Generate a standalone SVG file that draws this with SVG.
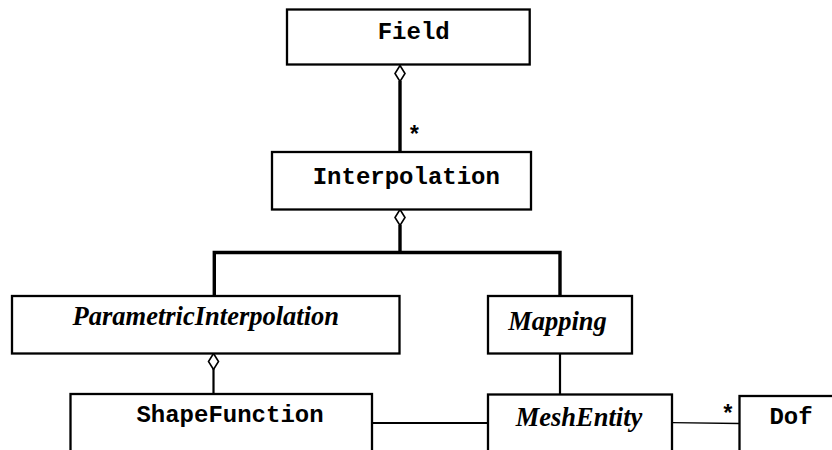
<svg xmlns="http://www.w3.org/2000/svg" width="832" height="450" viewBox="0 0 832 450">
  <style>
    .box { fill: #fff; stroke: #000; stroke-width: 2.3; }
    .mono { font-family: "Liberation Mono", "Courier New", monospace; font-weight: bold; font-size: 24px; fill: #000; text-anchor: middle; }
    .abs { font-family: "Liberation Serif", "Times New Roman", serif; font-weight: bold; font-style: italic; font-size: 26.5px; fill: #000; text-anchor: middle; }
    .thick { fill: none; stroke: #000; stroke-width: 3.4; stroke-linejoin: miter; }
    .thin { fill: none; stroke: #000; stroke-width: 2.2; }
    .hair { fill: none; stroke: #000; stroke-width: 1.3; }
    .agg { fill: #fff; stroke: #000; stroke-width: 1.6; }
    .mult { font-family: "Liberation Mono", "Courier New", monospace; font-weight: bold; font-size: 23px; fill: #000; text-anchor: middle; }
  </style>
  <rect width="832" height="450" fill="#fff"/>

  <g id="connectors">
    <!-- Field <>- Interpolation -->
    <line class="thick" x1="400" y1="81" x2="400" y2="152"/>
    <path class="agg" d="M400,65.5 L405,73.5 L400,81.5 L395,73.5 Z"/>
    <text class="mult" x="414.5" y="143">*</text>
    <!-- Interpolation <>- specialisations -->
    <line class="thick" x1="400" y1="225" x2="400" y2="252.5"/>
    <path class="thick" d="M214.3,296 V252.5 H560 V296"/>
    <path class="agg" d="M400,209.5 L405,217.5 L400,225.5 L395,217.5 Z"/>
    <!-- ParametricInterpolation <>- ShapeFunction -->
    <line class="thin" x1="213.5" y1="369" x2="213.5" y2="394"/>
    <path class="agg" d="M213.5,353.5 L218.5,361.5 L213.5,369.5 L208.5,361.5 Z"/>
    <!-- Mapping - MeshEntity -->
    <line class="thin" x1="560" y1="353.5" x2="560" y2="394.5"/>
    <!-- ShapeFunction - MeshEntity -->
    <line class="thin" x1="372" y1="423" x2="488" y2="423"/>
    <!-- MeshEntity - Dof -->
    <line class="hair" x1="672" y1="422.7" x2="739.5" y2="423.5"/>
    <text class="mult" x="728" y="422">*</text>
  </g>

  <g id="field">
    <rect class="box" x="287" y="9.5" width="242.7" height="55"/>
    <text class="mono" x="413.7" y="38.5">Field</text>
  </g>

  <g id="interpolation">
    <rect class="box" x="272" y="152" width="259" height="57.5"/>
    <text class="mono" x="406.3" y="183.5">Interpolation</text>
  </g>

  <g id="parametric-interpolation">
    <rect class="box" x="12" y="296" width="387.5" height="57.5"/>
    <text class="abs" x="205.8" y="324.5">ParametricInterpolation</text>
  </g>

  <g id="mapping">
    <rect class="box" x="488" y="296" width="144" height="57.5"/>
    <text class="abs" x="557.5" y="329.5">Mapping</text>
  </g>

  <g id="shape-function">
    <rect class="box" x="70.5" y="394" width="301.5" height="100"/>
    <text class="mono" x="230" y="421.5">ShapeFunction</text>
  </g>

  <g id="mesh-entity">
    <rect class="box" x="488" y="394.5" width="184" height="100"/>
    <text class="abs" x="579" y="425.5">MeshEntity</text>
  </g>

  <g id="dof">
    <rect class="box" x="739.5" y="396" width="140" height="100"/>
    <text class="mono" x="791" y="423.5">Dof</text>
  </g>
</svg>
